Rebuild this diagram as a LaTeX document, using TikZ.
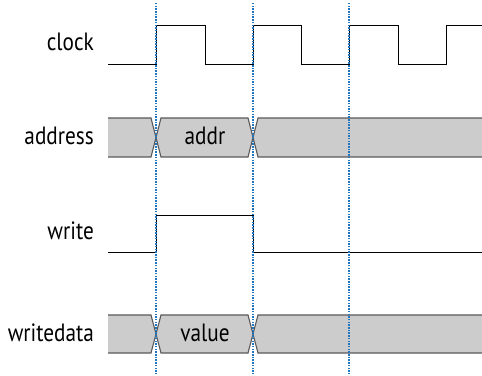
\documentclass[tikz,border=0pt]{standalone}
\usepackage{fontspec}
\setmainfont{PT Sans}[FakeStretch=0.85]
\definecolor{markblue}{RGB}{30,118,190}
\begin{document}
\begin{tikzpicture}[x=1pt,y=1pt,
  lbl/.style={anchor=east,inner sep=0pt,font=\fontsize{25}{26}\selectfont},
  bustext/.style={inner sep=0pt,font=\fontsize{25}{26}\selectfont},
  wave/.style={draw=black,line width=0.9pt},
  busfill/.style={fill=black!20},
  busline/.style={draw=black!65,line width=1.1pt,line join=miter},
  marker/.style={draw=markblue,line width=1.6pt,dash pattern=on 1.5pt off 1.2pt}]
\useasboundingbox (0,0) rectangle (482,375);
% labels
\node[lbl] (lclk) at (94,333) {clock};
\node[lbl] (ladr) at (94,239) {address};
\node[lbl] (lwr)  at (94,144) {write};
\node[lbl] (lwd)  at (94,42) {writedata};
% clock
\draw[wave] (108,311) -- (156,311) -- (156,350) -- (205,350) -- (205,311) -- (253,311) -- (253,350)
  -- (301,350) -- (301,311) -- (349,311) -- (349,350) -- (398,350) -- (398,311) -- (446,311) -- (446,350) -- (482,350);
% buses
\foreach \yt/\yb in {257/218, 60/22}{
  \pgfmathsetmacro{\ym}{(\yt+\yb)/2}
  \fill[busfill] (108,\yt) -- (151,\yt) -- (156,\ym) -- (151,\yb) -- (108,\yb) -- cycle;
  \fill[busfill] (161,\yt) -- (248,\yt) -- (253,\ym) -- (248,\yb) -- (161,\yb) -- (156,\ym) -- cycle;
  \fill[busfill] (258,\yt) -- (482,\yt) -- (482,\yb) -- (258,\yb) -- (253,\ym) -- cycle;
  \draw[busline] (108,\yt) -- (151,\yt) -- (156,\ym) -- (151,\yb) -- (108,\yb);
  \draw[busline] (161,\yt) -- (248,\yt) -- (253,\ym) -- (248,\yb) -- (161,\yb) -- (156,\ym) -- cycle;
  \draw[busline] (482,\yt) -- (258,\yt) -- (253,\ym) -- (258,\yb) -- (482,\yb);
}
\node[bustext] (addr) at (205,239) {addr};
\node[bustext] (val) at (205,42) {value};
% write
\draw[wave] (108,123) -- (156,123) -- (156,160) -- (253,160) -- (253,123) -- (482,123);
% markers
\foreach \x in {156,253,349}{
  \draw[marker] (\x,372) -- (\x,0);
}
\end{tikzpicture}
\end{document}
